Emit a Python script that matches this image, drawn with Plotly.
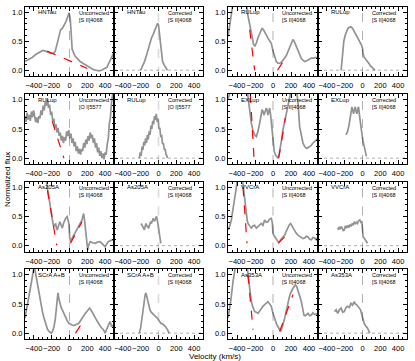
import plotly.graph_objects as go

# ---- data: velocity (km/s) and normalized flux ----
hntau_unc_v = [-500, -460, -420, -380, -340, -300, -270, -240, -210, -180, -160, -140, -120, -100, -80, -60, -40, -20, -5, 8,
               18, 30, 60, 90, 120, 150, 180, 210, 240, 270, 300, 330, 360, 390, 420, 450, 480, 500]
hntau_unc_f = [0.15, 0.18, 0.22, 0.27, 0.31, 0.34, 0.33, 0.31, 0.29, 0.29, 0.33, 0.45, 0.6, 0.7, 0.72, 0.77, 0.84, 0.92, 0.99, 0.9,
               0.55, 0.36, 0.25, 0.2, 0.15, 0.12, 0.09, 0.06, 0.03, 0.01, 0.0, -0.01, 0.0, 0.02, 0.05, 0.15, 0.25, 0.31]
hntau_cor_v = [-200, -180, -160, -140, -120, -100, -80, -60, -40, -25, -10, 0, 10, 20, 30, 45, 60, 80, 100]
hntau_cor_f = [0.0, 0.06, 0.14, 0.23, 0.34, 0.45, 0.55, 0.62, 0.7, 0.75, 0.81, 0.78, 0.62, 0.45, 0.3, 0.16, 0.1, 0.05, 0.0]

rulup_s2_unc_v = [-500, -480, -460, -440, -420, -300, -285, -270, -255, -240, -225, -215, -200, -185, -165, -148, -130, -122,
                  -110, -93, -75, -55, -35, -18, 0, 18, 37, 55, 75, 95, 115, 130, 150, 170, 185, 205, 222, 235, 250, 265,
                  280, 300, 315, 335, 352, 370, 389, 410, 426, 450, 475, 500]
rulup_s2_unc_f = [0.58, 0.8, 1.02, 1.2, 1.3, 1.3, 1.0, 0.88, 0.78, 0.64, 0.52, 0.44, 0.42, 0.47, 0.57, 0.64, 0.7, 0.72,
                  0.71, 0.67, 0.61, 0.55, 0.5, 0.46, 0.33, 0.22, 0.15, 0.12, 0.12, 0.14, 0.17, 0.21, 0.26, 0.33, 0.41, 0.48,
                  0.53, 0.5, 0.44, 0.38, 0.31, 0.24, 0.2, 0.17, 0.15, 0.16, 0.18, 0.2, 0.21, 0.21, 0.22, 0.21]
rulup_s2_cor_v = [-240, -230, -222, -210, -195, -180, -165, -150, -130, -110, -93, -75, -56, -40, -25, -10, 0, 7, 20, 37,
                  55, 74, 92, 111, 125, 140]
rulup_s2_cor_f = [0.0, 0.18, 0.35, 0.5, 0.6, 0.67, 0.72, 0.74, 0.75, 0.72, 0.67, 0.62, 0.58, 0.53, 0.48, 0.43, 0.38, 0.28,
                  0.22, 0.19, 0.15, 0.11, 0.07, 0.04, 0.02, 0.0]

rulup_o1_unc_v = [-500, -488, -476, -464, -452, -440, -428, -416, -404, -392, -380, -368, -356, -344, -332, -320, -308, -296,
                  -284, -272, -260, -248, -236, -224, -212, -200, -188, -176, -164, -152, -140, -128, -116, -104, -92, -80,
                  -68, -56, -44, -32, -20, -8, 4, 16, 28, 40, 52, 64, 76, 88, 100, 112, 124, 136, 148, 160, 172, 184, 196,
                  208, 220, 232, 244, 256, 268, 280, 292, 304, 316, 328, 340, 352, 364, 376, 388, 400, 412, 424, 436, 448,
                  460, 472, 484, 496]
rulup_o1_unc_f = [0.72, 0.62, 0.78, 0.66, 0.74, 0.64, 0.8, 0.7, 0.82, 0.72, 0.62, 0.7, 0.6, 0.72, 0.68, 0.82, 0.74, 0.9,
                  0.82, 0.96, 0.9, 1.02, 0.86, 0.92, 0.74, 0.8, 0.62, 0.68, 0.52, 0.58, 0.44, 0.52, 0.38, 0.44, 0.3, 0.38,
                  0.26, 0.36, 0.3, 0.46, 0.38, 0.48, 0.34, 0.42, 0.26, 0.34, 0.2, 0.28, 0.12, 0.2, 0.08, 0.16, 0.06, 0.16,
                  0.12, 0.26, 0.18, 0.32, 0.24, 0.38, 0.3, 0.44, 0.34, 0.4, 0.26, 0.34, 0.18, 0.26, 0.1, 0.18, 0.04, 0.12,
                  0.0, 0.08, -0.02, 0.1, 0.06, 0.24, 0.34, 0.6, 0.7, 0.96, 1.05, 1.2]
rulup_o1_cor_v = [-215, -205, -195, -185, -175, -165, -155, -145, -135, -125, -115, -105, -95, -85, -75, -65, -55, -45,
                  -35, -25, -15, -5, 5, 15, 25, 35, 45, 55, 65, 75, 85, 95, 100]
rulup_o1_cor_f = [0.0, 0.1, 0.04, 0.2, 0.14, 0.28, 0.22, 0.34, 0.26, 0.4, 0.32, 0.46, 0.4, 0.56, 0.5, 0.64, 0.58, 0.72,
                  0.66, 0.76, 0.62, 0.68, 0.5, 0.52, 0.36, 0.4, 0.24, 0.26, 0.14, 0.16, 0.06, 0.04, 0.0]

exlup_unc_v = [-500, -450, -400, -330, -290, -278, -260, -241, -222, -204, -185, -167, -148, -135, -122, -110, -100, -87,
               -74, -65, -56, -46, -37, -27, -18, -8, 0, 13, 26, 40, 56, 70, 85, 98, 111, 125, 137, 150, 167, 182, 196,
               215, 240, 262, 278, 296, 315, 333, 352, 370, 389, 407, 425, 444, 462, 481, 500]
exlup_unc_f = [1.0, 1.3, 1.3, 1.3, 1.2, 1.05, 0.82, 0.6, 0.47, 0.4, 0.37, 0.46, 0.6, 0.72, 0.83, 0.8, 0.74, 0.8, 0.86,
               0.82, 0.74, 0.8, 0.86, 0.75, 0.6, 0.42, 0.28, 0.12, 0.06, 0.03, 0.0, 0.08, 0.2, 0.34, 0.49, 0.6, 0.71, 0.82,
               0.97, 1.05, 1.12, 1.2, 1.2, 1.15, 0.95, 0.54, 0.38, 0.26, 0.2, 0.17, 0.18, 0.2, 0.22, 0.26, 0.29, 0.31, 0.34]
exlup_cor_v = [-185, -167, -152, -141, -130, -119, -110, -100, -90, -81, -72, -63, -53, -44, -35, -26, -16, -7, 5, 19, 32, 44]
exlup_cor_f = [0.4, 0.46, 0.56, 0.66, 0.8, 0.88, 0.82, 0.76, 0.84, 0.88, 0.8, 0.76, 0.84, 0.88, 0.75, 0.6, 0.5, 0.42,
               0.3, 0.2, 0.1, 0.03]

as205_unc_v = [-500, -400, -300, -265, -248, -230, -211, -200, -193, -183, -174, -165, -156, -146, -137, -122, -107, -94,
               -81, -68, -56, -40, -26, -15, -7, 2, 11, 20, 30, 48, 67, 85, 104, 122, 141, 150, 159, 168, 178, 190, 204,
               218, 233, 260, 289, 315, 344, 370, 400, 418, 437, 465, 493, 500]
as205_unc_f = [1.3, 1.3, 1.3, 1.15, 0.98, 0.82, 0.67, 0.55, 0.44, 0.36, 0.33, 0.36, 0.38, 0.3, 0.27, 0.35, 0.41, 0.35,
               0.3, 0.38, 0.44, 0.48, 0.5, 0.45, 0.38, 0.15, 0.07, 0.1, 0.13, 0.18, 0.24, 0.28, 0.33, 0.38, 0.44, 0.5,
               0.55, 0.45, 0.27, 0.1, -0.07, 0.02, 0.07, 0.05, 0.04, 0.06, 0.07, 0.03, -0.02, 0.03, 0.07, 0.09, 0.1, 0.1]
as205_cor_v = [-196, -187, -178, -168, -159, -150, -141, -130, -120, -111, -100, -90, -80, -70, -59, -48, -37, -29, -22,
               -14, -7, 0, 7, 15, 26]
as205_cor_f = [0.38, 0.34, 0.33, 0.3, 0.27, 0.33, 0.38, 0.34, 0.3, 0.3, 0.36, 0.41, 0.38, 0.44, 0.47, 0.42, 0.44, 0.48,
               0.5, 0.45, 0.38, 0.3, 0.21, 0.12, 0.04]

vvcra_unc_v = [-500, -480, -463, -445, -426, -407, -390, -350, -333, -322, -315, -305, -296, -287, -278, -260, -241, -222,
               -204, -185, -167, -148, -130, -112, -93, -75, -56, -37, -19, -8, 0, 13, 26, 41, 56, 70, 85, 108, 130, 148,
               167, 182, 196, 215, 233, 255, 278, 296, 315, 333, 352, 370, 389, 407, 426, 444, 463, 481, 500]
vvcra_unc_f = [0.27, 0.34, 0.44, 0.6, 0.78, 1.0, 1.2, 1.2, 1.05, 0.9, 0.78, 0.64, 0.5, 0.44, 0.38, 0.33, 0.3, 0.34, 0.35,
               0.3, 0.33, 0.36, 0.38, 0.35, 0.44, 0.4, 0.41, 0.46, 0.47, 0.4, 0.21, 0.17, 0.13, 0.1, 0.07, 0.06, 0.1, 0.14,
               0.18, 0.25, 0.33, 0.36, 0.38, 0.33, 0.27, 0.22, 0.18, 0.16, 0.15, 0.12, 0.13, 0.16, 0.15, 0.11, 0.1, 0.14,
               0.13, 0.1, 0.15]
vvcra_cor_v = [-278, -265, -252, -241, -228, -216, -204, -192, -180, -167, -155, -142, -130, -118, -105, -93, -80, -68,
               -56, -44, -30, -19, -7, 0, 7, 18, 30, 43, 56]
vvcra_cor_f = [0.27, 0.32, 0.28, 0.33, 0.3, 0.26, 0.27, 0.34, 0.3, 0.35, 0.31, 0.36, 0.33, 0.38, 0.35, 0.41, 0.37, 0.4,
               0.38, 0.43, 0.44, 0.4, 0.41, 0.3, 0.15, 0.13, 0.1, 0.07, 0.04]

scra_unc_v = [-500, -478, -452, -426, -407, -395, -378, -360, -341, -322, -304, -285, -267, -248, -230, -215, -204, -189,
              -174, -159, -144, -137, -130, -118, -107, -94, -81, -62, -44, -25, -7, 12, 30, 48, 67, 85, 104, 122, 141,
              160, 178, 200, 226, 248, 270, 298, 326, 354, 381, 400, 413, 426, 441, 456, 465, 474, 484, 493, 500]
scra_unc_f = [0.26, 0.43, 0.66, 0.89, 1.06, 1.15, 1.0, 0.84, 0.66, 0.5, 0.37, 0.25, 0.14, 0.07, 0.03, 0.01, 0.0, 0.04,
              0.11, 0.25, 0.43, 0.58, 0.69, 0.58, 0.49, 0.44, 0.4, 0.33, 0.26, 0.21, 0.17, 0.15, 0.14, 0.13, 0.14, 0.15,
              0.17, 0.21, 0.26, 0.3, 0.34, 0.38, 0.43, 0.38, 0.31, 0.24, 0.17, 0.1, 0.06, 0.0, 0.05, 0.11, 0.15, 0.2,
              0.16, 0.11, 0.13, 0.14, 0.14]
scra_cor_v = [-215, -200, -185, -172, -159, -150, -141, -132, -122, -110, -96, -82, -67, -50, -30, -15, 0, 13, 26, 45,
              63, 80, 100, 110, 119]
scra_cor_f = [0.0, 0.1, 0.26, 0.44, 0.6, 0.66, 0.69, 0.62, 0.54, 0.46, 0.4, 0.36, 0.34, 0.31, 0.29, 0.26, 0.23, 0.2,
              0.17, 0.16, 0.14, 0.11, 0.06, 0.03, 0.0]

as353_unc_v = [-500, -470, -444, -426, -400, -300, -278, -259, -246, -233, -218, -204, -185, -167, -148, -130, -112, -93,
               -75, -56, -37, -19, 0, 13, 26, 41, 56, 70, 85, 98, 111, 124, 137, 152, 167, 182, 196, 209, 222, 235, 248,
               263, 278, 296, 315, 330, 344, 360, 375, 389, 407, 426, 444, 463, 481, 500]
as353_unc_f = [0.26, 0.54, 0.89, 1.15, 1.3, 1.3, 1.0, 0.72, 0.6, 0.49, 0.42, 0.37, 0.36, 0.34, 0.38, 0.43, 0.46, 0.49,
               0.51, 0.54, 0.5, 0.46, 0.34, 0.27, 0.2, 0.15, 0.11, 0.07, 0.03, 0.08, 0.14, 0.22, 0.31, 0.42, 0.54, 0.62,
               0.69, 0.74, 0.77, 0.8, 0.83, 0.8, 0.74, 0.64, 0.54, 0.42, 0.31, 0.3, 0.33, 0.34, 0.3, 0.31, 0.35, 0.32,
               0.33, 0.31]
as353_cor_v = [-315, -296, -278, -260, -241, -222, -204, -185, -167, -148, -130, -112, -93, -80, -67, -52, -37, -22, -7,
               6, 19, 37, 56, 70, 81]
as353_cor_f = [0.37, 0.4, 0.34, 0.4, 0.43, 0.36, 0.37, 0.44, 0.46, 0.44, 0.51, 0.48, 0.54, 0.5, 0.49, 0.46, 0.43, 0.4,
               0.31, 0.24, 0.17, 0.12, 0.09, 0.04, 0.0]

# red dashed fits on the uncorrected profiles: (v0, v1, f0, f1)
hntau_fits = [(-250, 200, 0.33, 0.03)]
rulup_s2_fits = [(-259, -204, 0.7, 0.0), (50, 130, 0.0, 0.19)]
rulup_o1_fits = [(-193, -63, 0.63, 0.0)]
exlup_fits = [(-252, -211, 1.1, 0.0), (63, 137, 0.0, 0.69)]
as205_fits = [(-248, -144, 0.95, 0.01), (11, 141, 0.04, 0.41)]
vvcra_fits = [(-333, -289, 1.0, 0.04), (56, 130, 0.04, 0.15)]
scra_fits = [(67, 141, 0.0, 0.17)]
as353_fits = [(-278, -222, 1.0, 0.06), (74, 222, 0.03, 0.66)]

x_ticks = [-400, -200, 0, 200, 400]
y_ticks = [0.0, 0.5, 1.0]

S2 = "[S II]4068"
O1 = "[O I]5577"

# (row, col, star, line, corrected, v, f, fits)
panels = [
    (0, 0, "HNTau", S2, False, hntau_unc_v, hntau_unc_f, hntau_fits),
    (0, 1, "HNTau", S2, True, hntau_cor_v, hntau_cor_f, []),
    (0, 2, "RULup", S2, False, rulup_s2_unc_v, rulup_s2_unc_f, rulup_s2_fits),
    (0, 3, "RULup", S2, True, rulup_s2_cor_v, rulup_s2_cor_f, []),
    (1, 0, "RULup", O1, False, rulup_o1_unc_v, rulup_o1_unc_f, rulup_o1_fits),
    (1, 1, "RULup", O1, True, rulup_o1_cor_v, rulup_o1_cor_f, []),
    (1, 2, "EXLup", S2, False, exlup_unc_v, exlup_unc_f, exlup_fits),
    (1, 3, "EXLup", S2, True, exlup_cor_v, exlup_cor_f, []),
    (2, 0, "As205A", S2, False, as205_unc_v, as205_unc_f, as205_fits),
    (2, 1, "As205A", S2, True, as205_cor_v, as205_cor_f, []),
    (2, 2, "VVCrA", S2, False, vvcra_unc_v, vvcra_unc_f, vvcra_fits),
    (2, 3, "VVCrA", S2, True, vvcra_cor_v, vvcra_cor_f, []),
    (3, 0, "SCrA A+B", S2, False, scra_unc_v, scra_unc_f, scra_fits),
    (3, 1, "SCrA A+B", S2, True, scra_cor_v, scra_cor_f, []),
    (3, 2, "As353A", S2, False, as353_unc_v, as353_unc_f, as353_fits),
    (3, 3, "As353A", S2, True, as353_cor_v, as353_cor_f, []),
]

W, H = 415, 361
COL_PX = [(25, 114), (114, 203), (228, 318), (318, 407)]
ROW_PX = [(6.5, 76), (94, 164), (181.5, 251.5), (269, 339)]
FONT = "Liberation Sans, Arial, sans-serif"

fig = go.Figure()
layout = {}
for i, (row, col, star, line, corrected, v, f, fits) in enumerate(panels):
    assert len(v) == len(f), star
    n = i + 1
    xa, ya = f"x{n}" if n > 1 else "x", f"y{n}" if n > 1 else "y"
    x0, x1 = COL_PX[col]
    top, bottom = ROW_PX[row]
    common = dict(
        showline=True, linecolor="black", linewidth=1, mirror="ticks",
        ticks="inside", ticklen=4, tickwidth=0.8, tickcolor="black",
        showgrid=False, zeroline=False, tickangle=0,
        tickfont=dict(size=7.5, color="black", family=FONT),
    )
    layout[f"xaxis{n}"] = dict(
        common, domain=[x0 / W, x1 / W], anchor=ya, range=[-500, 500],
        tickvals=x_ticks, ticklabelstandoff=2,
        minor=dict(ticks="inside", ticklen=2, dtick=50, tickcolor="black"),
    )
    layout[f"yaxis{n}"] = dict(
        common, domain=[1 - bottom / H, 1 - top / H], anchor=xa, range=[-0.1, 1.1],
        tickvals=y_ticks, tickformat=".1f", showticklabels=col in (0, 2),
        minor=dict(ticks="inside", ticklen=2, dtick=0.1, tickcolor="black"),
    )
    fig.add_trace(go.Scatter(x=v, y=f, xaxis=xa, yaxis=ya, mode="lines",
                             line=dict(color="#939393", width=1.7), showlegend=False, hoverinfo="skip"))
    for v0, v1, f0, f1 in fits:
        fig.add_trace(go.Scatter(x=[v0, v1], y=[f0, f1], xaxis=xa, yaxis=ya, mode="lines",
                                 line=dict(color="red", width=1.2, dash="dash"), showlegend=False))
    # velocity zero and continuum level
    zero_col = "#8a8a8a" if (corrected and col == 1) else "black"
    zero_w = 1.6 if (corrected and col == 1) else 1
    fig.add_shape(type="line", xref=xa, yref=f"{ya} domain", x0=0, x1=0, y0=0, y1=1,
                  line=dict(color=zero_col, width=zero_w, dash="dash"))
    if corrected:
        fig.add_shape(type="line", xref=f"{xa} domain", yref=ya, x0=0, x1=1, y0=0, y1=0,
                      line=dict(color="black", width=1, dash="dot"))
    fig.add_annotation(xref=f"{xa} domain", yref=f"{ya} domain", x=0.12, y=0.92, text=star,
                       showarrow=False, xanchor="left", yanchor="middle",
                       font=dict(size=6, color="#000000", family=FONT))
    fig.add_annotation(xref=f"{xa} domain", yref=f"{ya} domain", x=0.58, y=0.98,
                       text=("Corrected" if corrected else "Uncorrected") + "<br>" + line,
                       showarrow=False, xanchor="left", yanchor="top", align="left",
                       font=dict(size=5.5, color="#000000", family=FONT))

fig.add_annotation(xref="paper", yref="paper", x=7 / W, y=1 - 180 / H, text="Normalized flux",
                   textangle=-90, showarrow=False, xanchor="center", yanchor="middle",
                   font=dict(size=8, color="black", family=FONT))
fig.add_annotation(xref="paper", yref="paper", x=215 / W, y=1 - 356 / H, text="Velocity (km/s)",
                   showarrow=False, xanchor="center", yanchor="middle", borderpad=0,
                   font=dict(size=8, color="black", family=FONT))

fig.update_layout(
    width=W, height=H, margin=dict(l=0, r=0, t=0, b=0),
    paper_bgcolor="white", plot_bgcolor="white", template="simple_white",
    font=dict(family=FONT, color="black"),
    **layout,
)
# the page's default 8px body margin would push the figure out of the window
fig.write_html("out.html", config={"displayModeBar": False},
               post_script="document.body.style.margin = '0';")
